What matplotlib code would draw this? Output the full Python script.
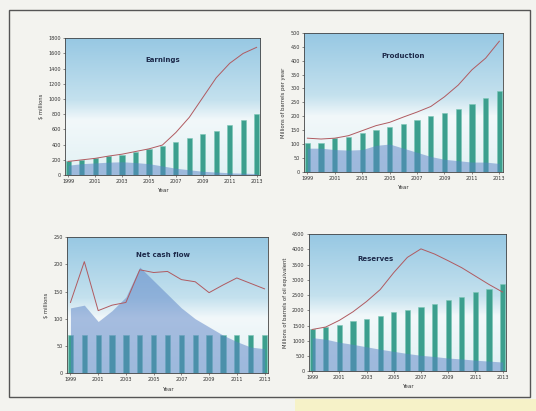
import numpy as np
import matplotlib
matplotlib.use("Agg")
import matplotlib.pyplot as plt
from matplotlib.colors import LinearSegmentedColormap
from matplotlib.patches import Rectangle

years = list(range(1999, 2014))
tick_years = list(range(1999, 2014, 2))

# Earnings ($ millions)
earn_line = [180, 200, 220, 250, 275, 310, 345, 395, 560, 760, 1020, 1280, 1470, 1600, 1680]
earn_bars = [190, 200, 225, 250, 265, 300, 340, 380, 430, 490, 535, 585, 665, 720, 800]
earn_area = [130, 150, 160, 170, 175, 165, 150, 120, 90, 70, 50, 40, 30, 25, 20]

# Production (millions of barrels per year)
prod_line = [121, 118, 121, 130, 148, 166, 178, 197, 215, 235, 270, 312, 367, 409, 470]
prod_bars = [102, 102, 120, 124, 140, 150, 160, 172, 187, 201, 212, 227, 245, 266, 291]
prod_area = [85, 85, 80, 78, 80, 95, 100, 85, 70, 55, 45, 40, 35, 35, 30]

# Net cash flow ($ millions)
ncf_line = [130, 205, 115, 125, 130, 190, 185, 187, 172, 168, 148, 162, 175, 165, 155]
ncf_bars = [70, 70, 70, 70, 70, 70, 70, 70, 70, 70, 70, 70, 70, 70, 70]
ncf_area = [120, 125, 95, 115, 140, 195, 170, 145, 120, 100, 85, 70, 58, 48, 45]

# Reserves (millions of barrels of oil equivalent)
res_line = [1370, 1450, 1670, 1950, 2290, 2680, 3240, 3740, 4020, 3850, 3630, 3400, 3125, 2850, 2600]
res_bars = [1370, 1450, 1530, 1650, 1730, 1820, 1930, 2010, 2120, 2220, 2340, 2440, 2600, 2710, 2870]
res_area = [1100, 1050, 950, 880, 800, 720, 650, 580, 520, 480, 430, 400, 360, 330, 300]

panels = [
    dict(title="Earnings", ylabel="$ millions", line=earn_line, bars=earn_bars, area=earn_area,
         ymax=1800, ystep=200, rect=[0.121, 0.574, 0.364, 0.333], tpos=(0.5, 0.84)),
    dict(title="Production", ylabel="Millions of barrels per year", line=prod_line, bars=prod_bars,
         area=prod_area, ymax=500, ystep=50, rect=[0.567, 0.582, 0.371, 0.338], tpos=(0.5, 0.83)),
    dict(title="Net cash flow", ylabel="$ millions", line=ncf_line, bars=ncf_bars, area=ncf_area,
         ymax=250, ystep=50, rect=[0.125, 0.092, 0.375, 0.331], tpos=(0.48, 0.87)),
    dict(title="Reserves", ylabel="Millions of barrels of oil equivalent", line=res_line, bars=res_bars,
         area=res_area, ymax=4500, ystep=500, rect=[0.576, 0.097, 0.368, 0.333], tpos=(0.34, 0.82)),
]

fig = plt.figure(figsize=(5.36, 4.11), dpi=100)
fig.patch.set_facecolor("#f3f3ef")

# page frame
fig.add_artist(Rectangle((0.017, 0.035), 0.972, 0.94, transform=fig.transFigure,
                         fill=False, edgecolor="#555555", linewidth=1.0))
fig.add_artist(Rectangle((0.55, 0.0), 0.45, 0.03, transform=fig.transFigure,
                         facecolor="#f6f2c8", edgecolor="none"))

cmap = LinearSegmentedColormap.from_list(
    "bg", [(0.0, "#e2f1f4"), (0.4, "#f2f8fa"), (0.55, "#c4e1ee"), (1.0, "#97c8e3")])
grad = np.linspace(0, 1, 256).reshape(-1, 1)

for p in panels:
    ax = fig.add_axes(p["rect"])
    ax.imshow(grad, aspect="auto", cmap=cmap, origin="lower",
              extent=[0, 1, 0, 1], transform=ax.transAxes, zorder=0)
    x = np.array(years)
    ax.bar(x, p["bars"], width=0.38, color="#3c9f8e", edgecolor="#7cc7b6",
           linewidth=0.4, zorder=1)
    ax.fill_between(x, 0, p["area"], color="#5a82c6", alpha=0.5, linewidth=0, zorder=2)
    ax.plot(x, p["line"], color="#b05a60", linewidth=0.7, zorder=3)
    ax.set_xlim(years[0] - 0.25, years[-1] + 0.25)
    ax.set_ylim(0, p["ymax"])
    ax.set_yticks(np.arange(0, p["ymax"] + 1, p["ystep"]))
    ax.set_xticks(tick_years)
    ax.tick_params(labelsize=3.5, length=1.5, width=0.4, pad=1.5, colors="#333333")
    for s in ax.spines.values():
        s.set_linewidth(0.6)
        s.set_color("#444444")
    ax.set_xlabel("Year", fontsize=4, labelpad=3, color="#333333")
    ax.set_ylabel(p["ylabel"], fontsize=3.8, labelpad=3, color="#333333")
    ax.text(p["tpos"][0], p["tpos"][1], p["title"], transform=ax.transAxes,
            ha="center", va="center", fontsize=5, fontweight="bold", color="#1d2a4a", zorder=4)

fig.savefig("out.png", dpi=100, facecolor=fig.get_facecolor())
